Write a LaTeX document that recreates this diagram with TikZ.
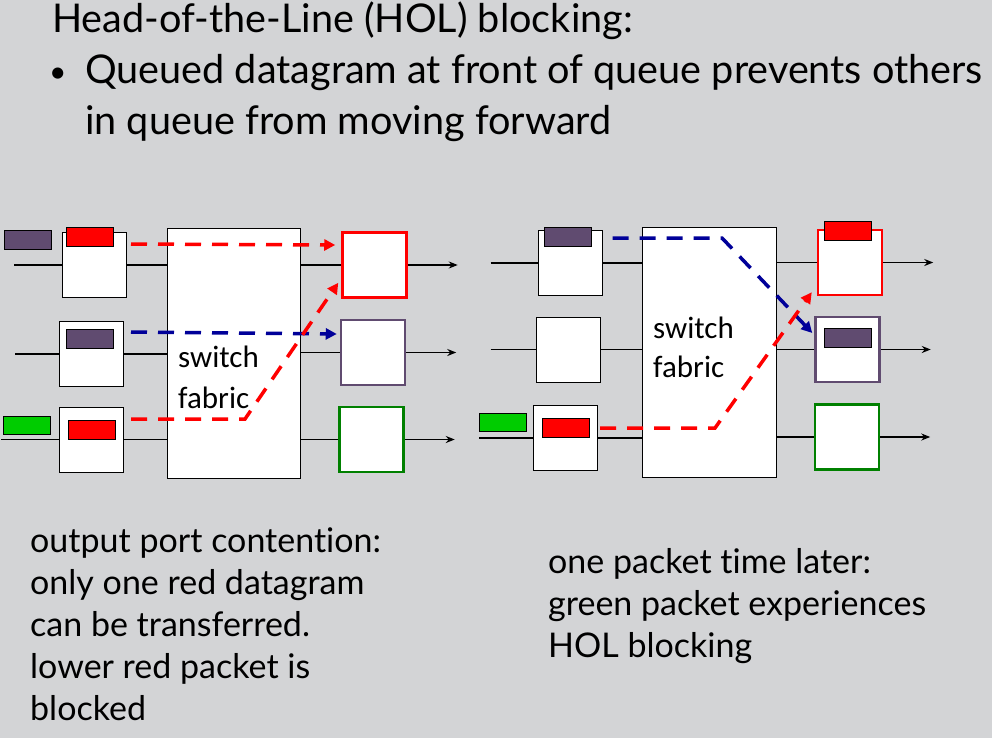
\documentclass[tikz,border=0pt]{standalone}
\usepackage{fontspec}
\setmainfont{Lato}[Ligatures=NoCommon]
\newfontfamily\fabricfont{Carlito}
\usetikzlibrary{positioning, arrows.meta}

\definecolor{slidebg}{RGB}{211,212,214}
\definecolor{pktpurple}{RGB}{96,75,112}
\definecolor{pktgreen}{RGB}{0,204,0}
\definecolor{portgreen}{RGB}{0,128,0}
\definecolor{flowblue}{RGB}{0,0,153}

\tikzset{
  port/.style={draw, fill=white, line width=1pt, minimum width=64pt, minimum height=65pt, inner sep=0pt},
  outport/.style={port, line width=2.5pt},
  fabric/.style={draw, fill=white, line width=1pt, minimum width=133pt, minimum height=250pt, inner sep=0pt},
  pkt/.style={draw, line width=0.8pt, minimum width=47pt, minimum height=19pt, inner sep=0pt},
  wire/.style={line width=1.8pt},
  outwire/.style={wire, -{Stealth[length=9pt,width=7pt]}},
  flow/.style={line width=3.5pt, dash pattern=on 16pt off 11pt, -{Triangle[length=11pt,width=11pt]}},
  headtxt/.style={anchor=base west, inner sep=0pt, align=left, font=\fontsize{39.6}{51}\selectfont},
  txt/.style={anchor=base west, inner sep=0pt, align=left, font=\fontsize{34}{42}\selectfont},
  fabtxt/.style={anchor=base west, inner sep=0pt, align=left, font=\fabricfont\fontsize{31}{40}\selectfont},
}

\begin{document}
\begin{tikzpicture}[x=1pt, y=-1pt]
  \fill[slidebg] (0,0) rectangle (992,738);
  \useasboundingbox (0,0) rectangle (992,738);

  % heading (multi-line nodes sit on their last baseline)
  \node[headtxt] (title) at (52,33) {Head-of-the-Line (HOL) blocking:};
  \node[headtxt, font=\fontsize{30}{51}\selectfont] (bullet) at (49,83) {\textbullet};
  \node[headtxt] (point) at (85,135) {Queued datagram at front of queue prevents others\\in queue from moving forward};

  % left: switch fabric and ports
  \node[fabric] (Lfab) at (233.5,353.5) {};
  \node[fabtxt, font=\fabricfont\fontsize{31}{41}\selectfont] (Lfabtxt) at (178,408) {switch\\fabric};
  \node[port] (Lin1) at (94.5,265) {};
  \node[port] (Lin2) at (91.5,354) {};
  \node[port] (Lin3) at (91.5,439.5) {};
  \node[outport, draw=red] (Lout1) at (374.5,265) {};
  \node[outport, draw=pktpurple] (Lout2) at (373,352.5) {};
  \node[outport, draw=portgreen] (Lout3) at (371.5,439.5) {};

  % right: switch fabric and ports
  \node[fabric, minimum width=134pt] (Rfab) at (709,352) {};
  \node[fabtxt, font=\fabricfont\fontsize{31}{39}\selectfont] (Rfabtxt) at (653,377) {switch\\fabric};
  \node[port] (Rin1) at (570,263) {};
  \node[port] (Rin2) at (568,349.5) {};
  \node[port] (Rin3) at (565.5,438) {};
  \node[outport, draw=red] (Rout1) at (850,262.5) {};
  \node[outport, draw=pktpurple] (Rout2) at (847.5,349.5) {};
  \node[outport, draw=portgreen] (Rout3) at (847,437) {};

  % links in and out of each port
  \foreach \p/\r/\len in {L/1/48,L/2/44,L/3/58,R/1/47,R/2/45,R/3/54} {
    \coordinate[left=\len pt of \p in\r] (\p src\r);
    \coordinate[right=50pt of \p out\r] (\p dst\r);
    \draw[wire] (\p src\r) -- (\p in\r);
    \draw[wire] (\p in\r) -- (\p fab.west |- \p in\r.east);
    \draw[wire] (\p fab.east |- \p out\r.west) -- (\p out\r);
    \draw[outwire] (\p out\r) -- (\p dst\r);
  }

  % datagrams
  \node[pkt, fill=pktpurple] (Lq1) at (28,239.5) {};
  \node[pkt, fill=red] (Lh1) at (90,236.5) {};
  \node[pkt, fill=pktpurple] (Lh2) at (90,338.5) {};
  \node[pkt, fill=red] (Lh3) at (91.5,429.5) {};
  \node[pkt, fill=pktgreen, minimum height=18pt] (Lq3) at (26.5,425) {};
  \node[pkt, fill=pktpurple] (Rh1) at (567.5,237) {};
  \node[pkt, fill=red] (Rh3) at (566,427.5) {};
  \node[pkt, fill=pktgreen, minimum height=18pt] (Rq3) at (502.5,422) {};
  \node[pkt, fill=red] (Ro1) at (848,231) {};
  \node[pkt, fill=pktpurple] (Ro2) at (847.5,338) {};

  % transfers through the fabric
  \coordinate (Lkink) at (245,419);
  \coordinate (Rkink1) at (722,238);
  \coordinate (Rkink3) at (715,428);
  \draw[flow, red] ([xshift=4pt,yshift=21pt]Lin1.east) -- ([xshift=-6pt,yshift=20pt]Lout1.west);
  \draw[flow, flowblue] ([xshift=7pt,yshift=22pt]Lin2.east) -- ([xshift=-3pt,yshift=18.5pt]Lout2.west);
  \draw[flow, red] ([xshift=7pt,yshift=20.5pt]Lin3.east) -- (Lkink) -- ([xshift=-3pt,yshift=16pt]Lout1.south west);
  \draw[flow, flowblue] ([xshift=10pt,yshift=25pt]Rin1.east) -- (Rkink1) -- ([xshift=-2pt,yshift=16.5pt]Rout2.west);
  \draw[flow, red] ([xshift=2pt,yshift=10pt]Rin3.east) -- (Rkink3) -- ([xshift=-5pt,yshift=4pt]Rout1.south west);

  % notes
  \node[txt] (Lnote) at (30,720) {output port contention:\\only one red datagram\\can be transferred.\\lower red packet is\\blocked};
  \node[txt] (Rnote) at (548,657) {one packet time later:\\green packet experiences\\HOL blocking};
\end{tikzpicture}
\end{document}
